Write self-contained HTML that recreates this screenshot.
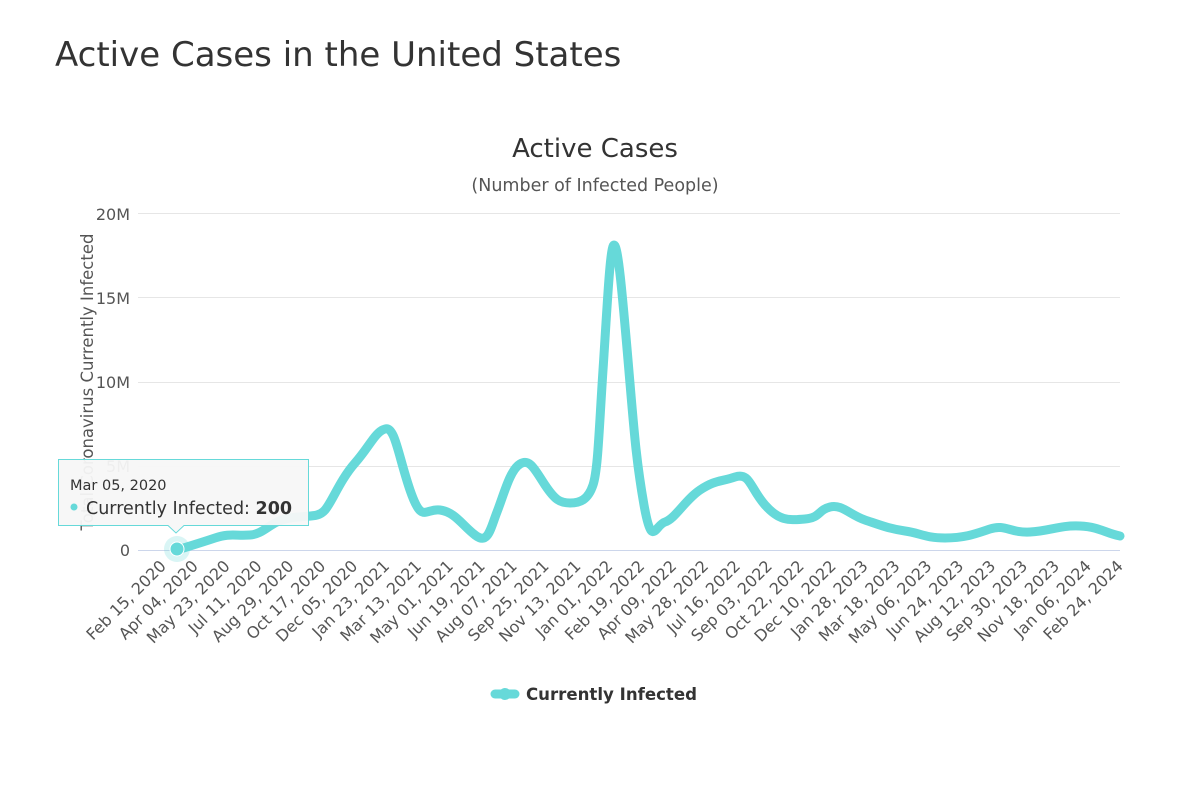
<!DOCTYPE html>
<html><head><meta charset="utf-8"><style>
body{margin:0;background:#fff;width:1200px;height:784px;overflow:hidden;font-family:"DejaVu Sans","Liberation Sans",sans-serif}
</style></head><body>
<svg width="1200" height="784" xmlns="http://www.w3.org/2000/svg" font-family="DejaVu Sans, Liberation Sans, sans-serif">
<text x="55" y="66" font-size="34" fill="#333">Active Cases in the United States</text>
<text x="595" y="157" font-size="26" fill="#333" text-anchor="middle">Active Cases</text>
<text x="595" y="191" font-size="17.5" fill="#555" text-anchor="middle">(Number of Infected People)</text>
<g stroke="#e6e6e6" stroke-width="1">
<line x1="138" y1="213.5" x2="1120" y2="213.5"/><line x1="138" y1="297.5" x2="1120" y2="297.5"/><line x1="138" y1="382.5" x2="1120" y2="382.5"/><line x1="138" y1="466.5" x2="1120" y2="466.5"/>
</g>
<line x1="138" y1="550.5" x2="1120" y2="550.5" stroke="#ccd6eb"/>
<g font-size="16" fill="#555" text-anchor="end">
<text x="130" y="220">20M</text><text x="130" y="304">15M</text><text x="130" y="388">10M</text><text x="130" y="472">5M</text><text x="130" y="556">0</text>
</g>
<text transform="translate(93,382) rotate(-90)" font-size="16.5" fill="#555" text-anchor="middle">Total Coronavirus Currently Infected</text>
<g font-size="16" fill="#555" text-anchor="end">
<text transform="translate(167,567) rotate(-45)">Feb 15, 2020</text>
<text transform="translate(198.9,567) rotate(-45)">Apr 04, 2020</text>
<text transform="translate(230.8,567) rotate(-45)">May 23, 2020</text>
<text transform="translate(262.7,567) rotate(-45)">Jul 11, 2020</text>
<text transform="translate(294.6,567) rotate(-45)">Aug 29, 2020</text>
<text transform="translate(326.5,567) rotate(-45)">Oct 17, 2020</text>
<text transform="translate(358.4,567) rotate(-45)">Dec 05, 2020</text>
<text transform="translate(390.3,567) rotate(-45)">Jan 23, 2021</text>
<text transform="translate(422.2,567) rotate(-45)">Mar 13, 2021</text>
<text transform="translate(454.1,567) rotate(-45)">May 01, 2021</text>
<text transform="translate(486,567) rotate(-45)">Jun 19, 2021</text>
<text transform="translate(517.9,567) rotate(-45)">Aug 07, 2021</text>
<text transform="translate(549.8,567) rotate(-45)">Sep 25, 2021</text>
<text transform="translate(581.7,567) rotate(-45)">Nov 13, 2021</text>
<text transform="translate(613.6,567) rotate(-45)">Jan 01, 2022</text>
<text transform="translate(645.5,567) rotate(-45)">Feb 19, 2022</text>
<text transform="translate(677.4,567) rotate(-45)">Apr 09, 2022</text>
<text transform="translate(709.3,567) rotate(-45)">May 28, 2022</text>
<text transform="translate(741.2,567) rotate(-45)">Jul 16, 2022</text>
<text transform="translate(773.1,567) rotate(-45)">Sep 03, 2022</text>
<text transform="translate(805,567) rotate(-45)">Oct 22, 2022</text>
<text transform="translate(836.9,567) rotate(-45)">Dec 10, 2022</text>
<text transform="translate(868.8,567) rotate(-45)">Jan 28, 2023</text>
<text transform="translate(900.7,567) rotate(-45)">Mar 18, 2023</text>
<text transform="translate(932.6,567) rotate(-45)">May 06, 2023</text>
<text transform="translate(964.5,567) rotate(-45)">Jun 24, 2023</text>
<text transform="translate(996.4,567) rotate(-45)">Aug 12, 2023</text>
<text transform="translate(1028.3,567) rotate(-45)">Sep 30, 2023</text>
<text transform="translate(1060.2,567) rotate(-45)">Nov 18, 2023</text>
<text transform="translate(1092.1,567) rotate(-45)">Jan 06, 2024</text>
<text transform="translate(1124,567) rotate(-45)">Feb 24, 2024</text>
</g>
<path fill="none" stroke="#66d9d9" stroke-width="9" stroke-linejoin="round" stroke-linecap="round" d="M177,550 C190,546 200,543 215,538 S235,536 250,535 S270,521 290,518 S318,518 325,510 S340,480 355,463 S375,432 385,429 S398,455 410,490 S425,508 440,510 S462,525 475,535 S490,530 497,512 S510,470 520,464 S535,470 545,485 S560,503 570,503 S588,500 593,485 S599,430 603,370 S610,245 614,245 S622,290 628,360 S636,460 644,505 S655,525 665,522 S685,500 700,490 S720,482 735,477 S750,488 765,505 S790,520 805,519 S818,510 830,507 S850,515 865,520 S890,529 905,531 S925,538 945,538 S975,534 990,529 S1010,533 1030,532 S1060,525 1080,526 S1105,533 1120,536"/>
<circle cx="177" cy="549" r="13" fill="#66d9d9" opacity="0.25"/>
<circle cx="177" cy="549" r="7" fill="#66d9d9" stroke="#fff" stroke-width="1"/>
<g>
<path d="M58.5,459.5 H308.5 V525.5 H184 L176,533 L168,525.5 H58.5 Z" fill="#f7f7f7" fill-opacity="0.95" stroke="#66d9d9" stroke-width="1"/>
<text x="70" y="490" font-size="14.5" fill="#333">Mar 05, 2020</text>
<circle cx="74" cy="507" r="3.5" fill="#66d9d9"/>
<text x="86" y="514" font-size="17.5" fill="#333">Currently Infected: <tspan font-weight="bold">200</tspan></text>
</g>
<line x1="495" y1="694" x2="515" y2="694" stroke="#66d9d9" stroke-width="9" stroke-linecap="round"/>
<circle cx="505" cy="694" r="6" fill="#66d9d9"/>
<text x="526" y="700" font-size="16.6" font-weight="bold" fill="#333">Currently Infected</text>
</svg>
</body></html>
